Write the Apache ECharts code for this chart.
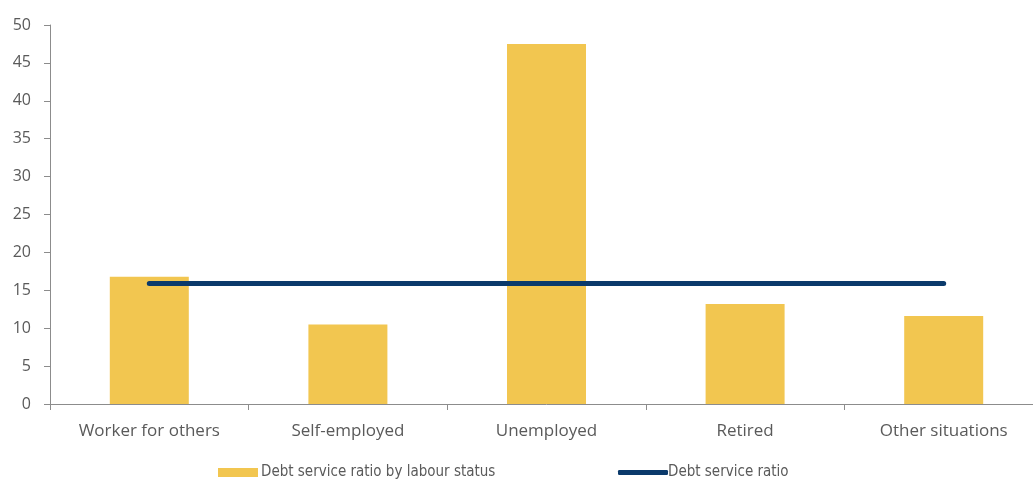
<!DOCTYPE html>
<html>
<head>
<meta charset="utf-8">
<script src="https://cdn.jsdelivr.net/npm/echarts@6/dist/echarts.min.js"></script>
<style>
  html, body { margin: 0; padding: 0; background: #fff; overflow: hidden; }
  #chart { width: 1043px; height: 479px; }
</style>
</head>
<body>
<div id="chart"></div>
<script>
// Labour status categories
const categories = ['Worker for others', 'Self-employed', 'Unemployed', 'Retired', 'Other situations'];
// Debt service ratio by labour status (%)
const ratioByStatus = [16.8, 10.5, 47.5, 13.2, 11.6];
// Overall debt service ratio (%)
const overallRatio = [15.9, 15.9, 15.9, 15.9, 15.9];
// Y axis ticks
const yTicks = [0, 5, 10, 15, 20, 25, 30, 35, 40, 45, 50];

const labelColor = '#5a5a5a';
const axisColor = '#8c8c8c';
const barColor = '#F2C650';
const lineColor = '#0B3A6B';
const narrowFont = "'DejaVu Sans Condensed', 'Open Sans', sans-serif";

// The plot runs slightly past the right edge of the visible page
const chart = echarts.init(document.getElementById('chart'), null, { renderer: 'canvas' });
chart.setOption({
  animation: false,
  grid: { left: 50, top: 25, right: 0, height: 379, containLabel: false },
  legend: [
    {
      data: [{ name: 'Debt service ratio by labour status', icon: 'rect' }],
      left: 218, top: 465, padding: 0,
      itemWidth: 40, itemHeight: 9, itemGap: 5,
      textStyle: { fontFamily: narrowFont, fontSize: 15, color: labelColor, padding: [0, 0, 0, -2] }
    },
    {
      data: [{ name: 'Debt service ratio', icon: 'roundRect' }],
      left: 618, top: 465, padding: 0,
      itemWidth: 50, itemHeight: 5, itemGap: 1,
      textStyle: { fontFamily: narrowFont, fontSize: 15, color: labelColor, padding: [0, 0, 0, -5] }
    }
  ],
  xAxis: {
    type: 'category',
    data: categories,
    boundaryGap: true,
    axisLine: { lineStyle: { color: axisColor, width: 1 } },
    axisTick: { show: true, length: 6, lineStyle: { color: axisColor } },
    axisLabel: { fontFamily: 'Open Sans', fontSize: 17, color: labelColor, margin: 19, interval: 0 }
  },
  yAxis: {
    type: 'value',
    min: yTicks[0], max: yTicks[yTicks.length - 1], interval: 5,
    splitLine: { show: false },
    axisLine: { show: true, lineStyle: { color: axisColor, width: 1 } },
    axisTick: { show: true, length: 6, lineStyle: { color: axisColor } },
    axisLabel: { fontFamily: 'Open Sans', fontSize: 16, color: labelColor, margin: 19 }
  },
  series: [
    {
      name: 'Debt service ratio by labour status',
      type: 'bar',
      data: ratioByStatus,
      barWidth: 79,
      itemStyle: { color: barColor }
    },
    {
      name: 'Debt service ratio',
      type: 'line',
      data: overallRatio,
      symbol: 'none',
      lineStyle: { color: lineColor, width: 5, cap: 'round' },
      itemStyle: { color: lineColor }
    }
  ]
});
</script>
</body>
</html>
